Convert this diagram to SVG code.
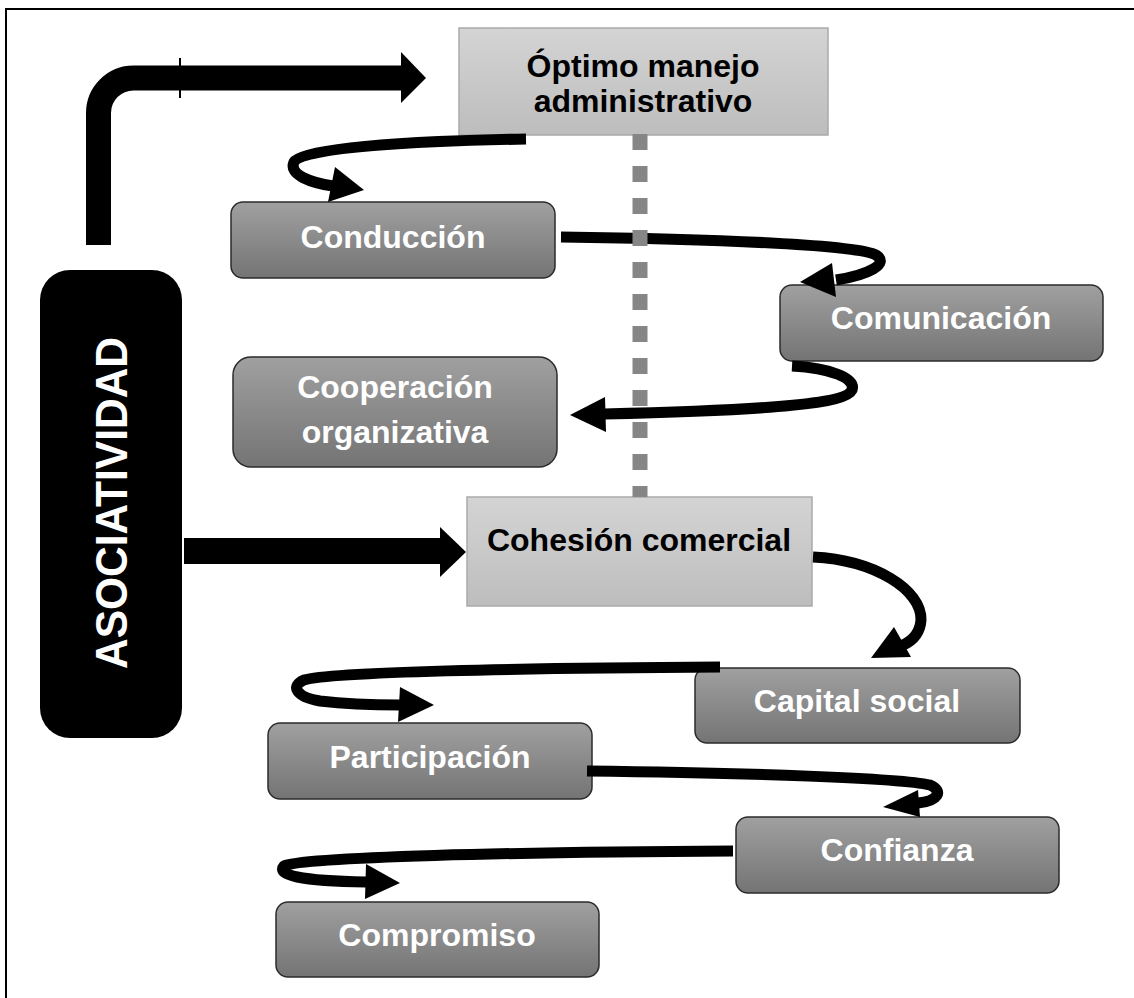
<svg xmlns="http://www.w3.org/2000/svg" width="1134" height="998" viewBox="0 0 1134 998">
<defs>
<linearGradient id="gDark" x1="0" y1="0" x2="0" y2="1">
<stop offset="0" stop-color="#a0a0a0"/>
<stop offset="1" stop-color="#747474"/>
</linearGradient>
<linearGradient id="gLight" x1="0" y1="0" x2="0" y2="1">
<stop offset="0" stop-color="#d4d4d4"/>
<stop offset="1" stop-color="#bdbdbd"/>
</linearGradient>
</defs>
<style>
.dark{fill:url(#gDark);stroke:#2b2b2b;stroke-width:1.5}
.light{fill:url(#gLight);stroke:#aaaaaa;stroke-width:1.5}
.tw{font-family:"Liberation Sans",Arial,sans-serif;font-weight:bold;font-size:32px;fill:#ffffff;text-anchor:middle}
.tb{font-family:"Liberation Sans",Arial,sans-serif;font-weight:bold;font-size:32px;fill:#000000;text-anchor:middle}
.curve{fill:none;stroke:#000;stroke-width:11;stroke-linecap:butt}
.head{fill:#000}
</style>
<rect width="1134" height="998" fill="#ffffff"/>
<g id="frame">
<line x1="5" y1="9" x2="1134" y2="9" stroke="#000" stroke-width="2"/>
<line x1="6" y1="8" x2="6" y2="998" stroke="#000" stroke-width="2"/>
</g>
<g id="asociatividad">
<rect x="40" y="270" width="142" height="468" rx="30" ry="30" fill="#000"/>
<text transform="translate(127,503) rotate(-90)" font-family="Liberation Sans,Arial,sans-serif" font-weight="bold" font-size="44" fill="#fff" text-anchor="middle" textLength="332" lengthAdjust="spacingAndGlyphs">ASOCIATIVIDAD</text>
</g>
<g id="optimo">
<rect class="light" x="459" y="28" width="369" height="107"/>
<text class="tb" x="643" y="77">Óptimo manejo</text>
<text class="tb" x="643" y="112">administrativo</text>
</g>
<g id="cohesion">
<rect class="light" x="467" y="497" width="345" height="109"/>
<text class="tb" x="639" y="551">Cohesión comercial</text>
</g>
<g id="conduccion">
<rect class="dark" x="231" y="202" width="324" height="76" rx="12"/>
<text class="tw" x="393" y="248">Conducción</text>
</g>
<g id="comunicacion">
<rect class="dark" x="780" y="285" width="323" height="76" rx="12"/>
<text class="tw" x="941" y="329">Comunicación</text>
</g>
<g id="cooperacion">
<rect class="dark" x="233" y="357" width="324" height="110" rx="18"/>
<text class="tw" x="395" y="398">Cooperación</text>
<text class="tw" x="395" y="443">organizativa</text>
</g>
<g id="capital">
<rect class="dark" x="695" y="668" width="325" height="75" rx="12"/>
<text class="tw" x="857" y="712">Capital social</text>
</g>
<g id="participacion">
<rect class="dark" x="268" y="723" width="324" height="76" rx="12"/>
<text class="tw" x="430" y="768">Participación</text>
</g>
<g id="confianza">
<rect class="dark" x="736" y="817" width="323" height="76" rx="12"/>
<text class="tw" x="897" y="861">Confianza</text>
</g>
<g id="compromiso">
<rect class="dark" x="276" y="902" width="323" height="75" rx="12"/>
<text class="tw" x="437" y="946">Compromiso</text>
</g>
<g id="connectors">
<path d="M98.5,245 V113 A35,35 0 0 1 133.5,78 H402" fill="none" stroke="#000" stroke-width="25"/>
<polygon class="head" points="401,52 426,78 401,103"/>
<line x1="180" y1="58" x2="180" y2="98" stroke="#000" stroke-width="2"/>
<rect x="184" y="538" width="257" height="26" fill="#000"/>
<polygon class="head" points="440,527 466,552 440,577"/>
<path class="curve" d="M526,139 C420,141 302,147 294,162 C288,175 312,183 333,186"/>
<polygon class="head" points="335,167 364,190 328,202"/>
<path class="curve" d="M561,237 C720,239 858,245 876,255 C890,264 868,275 836,280"/>
<polygon class="head" points="832,263 800,282 836,297"/>
<path class="curve" d="M792,366 C830,368 856,378 852,390 C846,403 780,410 604,414"/>
<polygon class="head" points="605,397 570,415 606,432"/>
<path class="curve" d="M813,557 C875,560 922,590 921,620 C920,633 912,641 903,645"/>
<polygon class="head" points="894,627 871,658 911,657"/>
<path class="curve" d="M720,667 C520,668 330,672 304,680 C290,686 296,697 320,701 C345,704 375,705 400,705"/>
<polygon class="head" points="400,687 434,705 398,722"/>
<path class="curve" d="M587,771 C750,773 900,778 930,785 C944,791 938,801 918,803"/>
<polygon class="head" points="918,790 883,807 920,817"/>
<path class="curve" d="M733,851 C520,852 300,857 284,866 C276,875 300,881 366,882"/>
<polygon class="head" points="366,864 400,883 365,899"/>
<line x1="640" y1="134" x2="640" y2="497" stroke="#868686" stroke-width="15" stroke-dasharray="16 16"/>
</g>
</svg>
